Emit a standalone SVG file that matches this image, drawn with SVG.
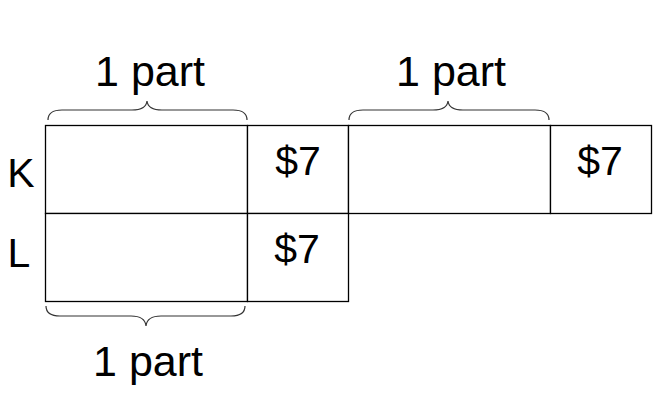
<svg xmlns="http://www.w3.org/2000/svg" width="661" height="415" viewBox="0 0 661 415">
<style>
.box{fill:#fff;stroke:#000;stroke-width:1.3}
.brace{fill:none;stroke:#333;stroke-width:1.2}
.t{font-family:"Liberation Sans",Arial,sans-serif;font-size:41px;fill:#000;text-anchor:middle}
.p{font-size:43px}
</style>
<rect width="661" height="415" fill="#fff"/>
<g id="labels">
<text class="t" x="21" y="187">K</text>
<text class="t" x="19" y="267">L</text>
</g>
<g id="rowK">
<rect id="k1" class="box" x="45.5" y="125.5" width="202" height="88"/>
<rect id="k2" class="box" x="247.5" y="125.5" width="101" height="88"/>
<rect id="k3" class="box" x="348.5" y="125.5" width="202" height="88"/>
<rect id="k4" class="box" x="550.5" y="125.5" width="101" height="88"/>
<text class="t" x="298" y="175">$7</text>
<text class="t" x="600" y="175">$7</text>
</g>
<g id="rowL">
<rect id="l1" class="box" x="45.5" y="213.5" width="202" height="88"/>
<rect id="l2" class="box" x="247.5" y="213.5" width="101" height="88"/>
<text class="t" x="297" y="263">$7</text>
</g>
<g id="braces">
<path class="brace" d="M48,120 Q48,110 62,110 L132,110 Q146,110 147,101 Q148,110 162,110 L233,110 Q247,110 247,120"/>
<path class="brace" d="M349,120 Q349,110 363,110 L433,110 Q447,110 448,101 Q449,110 463,110 L535,110 Q549,110 549,120"/>
<path class="brace" d="M46,306 Q46,316 60,316 L131,316 Q145,316 146,326 Q147,316 161,316 L231,316 Q245,316 245,306"/>
<text class="t p" x="150" y="86">1 part</text>
<text class="t p" x="451" y="86">1 part</text>
<text class="t p" x="148" y="376">1 part</text>
</g>
</svg>
